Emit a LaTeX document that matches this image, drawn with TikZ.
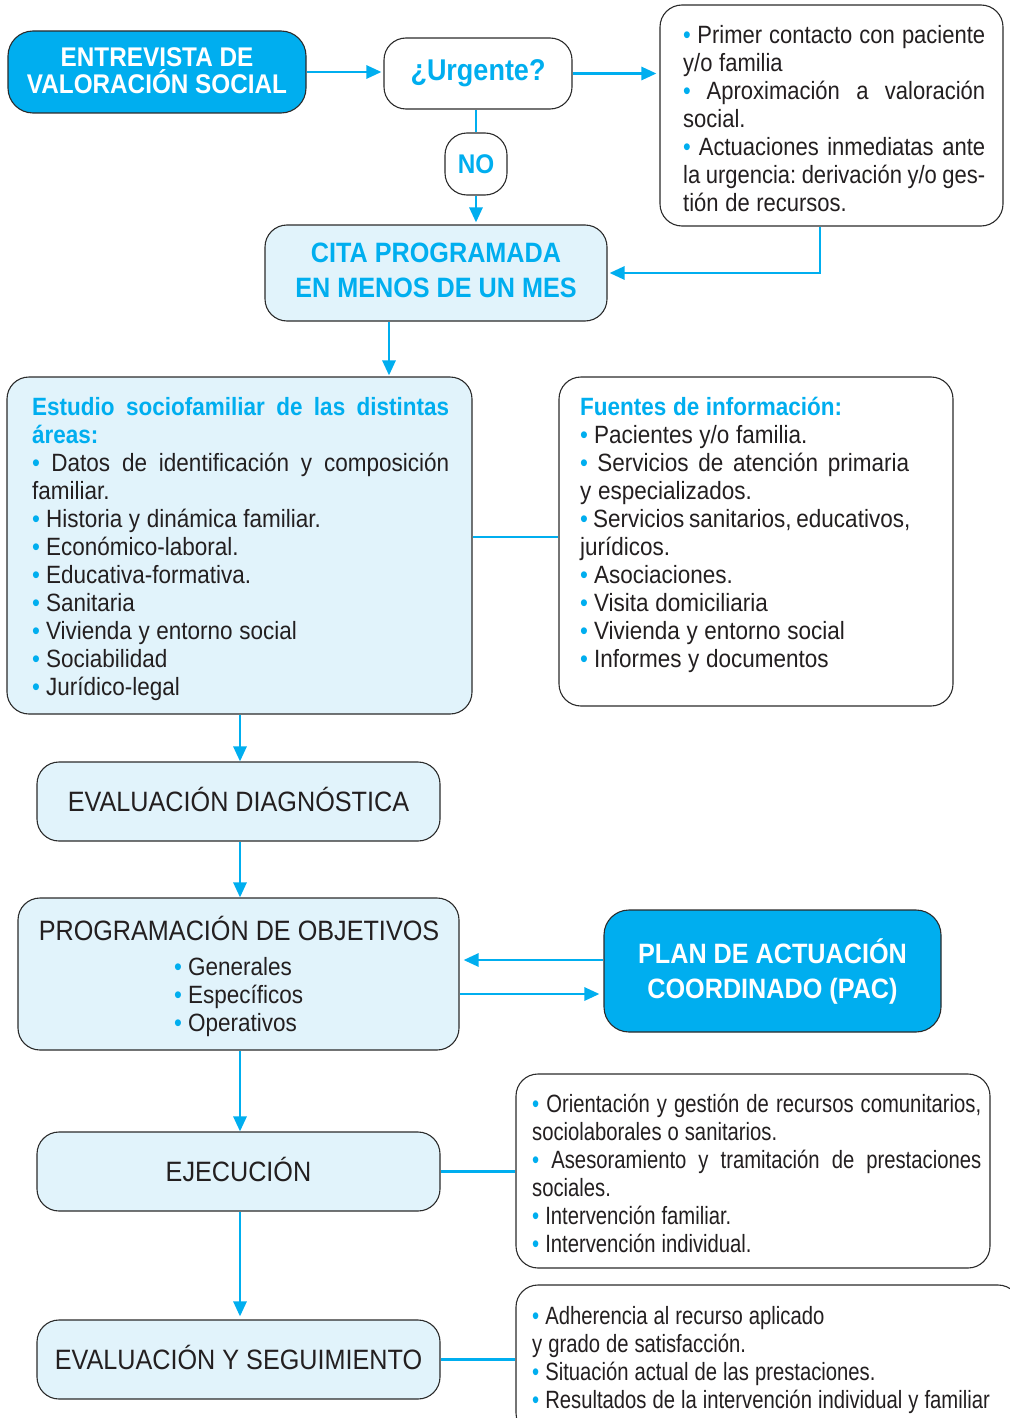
\documentclass[tikz,border=0pt]{standalone}
\usepackage{fontspec}
\setmainfont[FakeStretch=0.9]{Liberation Sans}
\newfontfamily\fmid[FakeStretch=0.88]{Liberation Sans}
\newfontfamily\fnar[FakeStretch=0.81]{Liberation Sans}
\usetikzlibrary{arrows.meta}
\definecolor{cy}{HTML}{00AEEF}
\definecolor{lb}{HTML}{E1F3FB}
\definecolor{tx}{HTML}{231F20}
\definecolor{bd}{HTML}{2B2B2B}
\newcommand\bl{{\color{cy}\textbullet}\hspace{6pt plus 5pt minus 1pt}}
\newcommand\jl[1]{\makebox[\linewidth][s]{#1}}
\newcommand\st{\rule{0pt}{22pt}}
\newcommand\hd[1]{{\bfseries\color{cy}#1}}
\newcommand\dpth[1]{\rule[-#1]{0pt}{#1}}
\newcommand\spA{\frenchspacing\spaceskip=6.6pt plus 5pt minus 1.8pt\relax}
\newcommand\spB{\frenchspacing\spaceskip=6pt plus 5pt minus 1.5pt\relax}
\tikzset{
  box/.style={draw=bd, line width=1.1pt, rounded corners=22pt, fill=lb, inner sep=0pt, align=center, text=tx},
  wbox/.style={box, fill=white},
  dbox/.style={box, fill=cy, text=white},
  lbl/.style={font=\fontsize{28}{33}\selectfont, text height=20pt, text depth=0pt},
  conn/.style={draw=cy, line width=2.8pt},
  arr/.style={conn, -{Triangle[length=15pt,width=13pt]}},
  lst/.style={anchor=north west, inner sep=0pt, text=tx, align=left, font=\fontsize{25}{28}\selectfont}
}
\begin{document}
\begin{tikzpicture}[x=1pt,y=-1pt]
\useasboundingbox (0,0) rectangle (1009,1418);
% boxes
\node[dbox, rounded corners=25pt, minimum width=298, minimum height=82, font=\fontsize{27}{27}\selectfont\bfseries] (ent) at (157,72) {ENTREVISTA DE\\VALORACIÓN SOCIAL\dpth{2pt}};
\node[wbox, minimum width=188, minimum height=71, text=cy, font=\fontsize{30}{33}\selectfont\bfseries] (urg) at (478,73.5) {¿Urgente?};
\node[wbox, minimum width=343, minimum height=221] (info) at (831.5,115.5) {};
\node[wbox, minimum width=62, minimum height=62, text=cy, font=\fontsize{27}{33}\selectfont\bfseries] (no) at (476,164) {NO};
\node[box, minimum width=342, minimum height=96, text=cy, font=\fontsize{28}{35}\selectfont\bfseries] (cita) at (436,273) {CITA PROGRAMADA\\EN MENOS DE UN MES\dpth{6pt}};
\node[box, minimum width=465, minimum height=337] (est) at (239.5,545.5) {};
\node[wbox, minimum width=394, minimum height=329] (fue) at (756,541.5) {};
\node[box, lbl, minimum width=403, minimum height=79] (diag) at (238.5,801.5) {EVALUACIÓN DIAGNÓSTICA};
\node[box, minimum width=441, minimum height=152] (prog) at (238.5,974) {};
\node[dbox, rounded corners=25pt, minimum width=337, minimum height=122, font=\fontsize{28}{35}\selectfont\bfseries] (pac) at (772.5,971) {PLAN DE ACTUACIÓN\\COORDINADO (PAC)};
\node[box, lbl, minimum width=403, minimum height=79] (ejec) at (238.5,1171.5) {EJECUCIÓN};
\node[wbox, minimum width=474, minimum height=194] (ejl) at (753,1171) {};
\node[box, lbl, minimum width=403, minimum height=79] (seg) at (238.5,1359.5) {EVALUACIÓN Y SEGUIMIENTO};
\node[wbox, minimum width=504, minimum height=150] (sgl) at (768,1360) {};
% texts
\node[lst, text width=302pt, font=\fmid\fontsize{25}{28}\selectfont] (infot) at (683,21)
 {\spA\st\jl{\bl Primer contacto con paciente}\\ y/o familia\\ \jl{\bl Aproximación a valoración}\\ social.\\ \jl{\bl Actuaciones inmediatas ante}\\ \jl{la urgencia: derivación y/o ges-}\\ tión de recursos.};
\node[lst, text width=417pt] (estt) at (32,393)
 {\spA\st\jl{\bfseries\color{cy}Estudio sociofamiliar de las distintas}\\ \hd{áreas:}\\ \jl{\bl Datos de identificación y composición}\\ familiar.\\ \bl Historia y dinámica familiar.\\ \bl Económico-laboral.\\ \bl Educativa-formativa.\\ \bl Sanitaria\\ \bl Vivienda y entorno social\\ \bl Sociabilidad\\ \bl Jurídico-legal};
\node[lst, text width=329pt] (fuet) at (580,393)
 {\spA\st\hd{Fuentes de información:}\\ \bl Pacientes y/o familia.\\ \jl{\bl Servicios de atención primaria}\\ y especializados.\\ \jl{\bl Servicios sanitarios, educativos,}\\ jurídicos.\\ \bl Asociaciones.\\ \bl Visita domiciliaria\\ \bl Vivienda y entorno social\\ \bl Informes y documentos};
\node[font=\fontsize{28}{33}\selectfont, text=tx, inner sep=0pt, text height=20pt, text depth=0pt] (progt) at (239,930) {PROGRAMACIÓN DE OBJETIVOS};
\node[lst, text width=200pt] (progl) at (174,953)
 {\spA\st\bl Generales\\ \bl Específicos\\ \bl Operativos};
\node[lst, text width=449pt, font=\fnar\fontsize{25}{28}\selectfont] (ejlt) at (532,1090)
 {\spB\st\jl{\bl Orientación y gestión de recursos comunitarios,}\\ sociolaborales o sanitarios.\\ \jl{\bl Asesoramiento y tramitación de prestaciones}\\ sociales.\\ \bl Intervención familiar.\\ \bl Intervención individual.};
\node[lst, text width=475pt, font=\fnar\fontsize{25}{28}\selectfont] (sglt) at (532,1302)
 {\spB\st\bl Adherencia al recurso aplicado\\ y grado de satisfacción.\\ \bl Situación actual de las prestaciones.\\ \mbox{\bl Resultados de la intervención individual y familiar}};
% connectors
\coordinate (cA) at (820,0);
\coordinate (cB) at (389,0);
\coordinate (cC) at (0,537);
\coordinate (cD) at (240,0);
\coordinate (cE) at (0,960);
\coordinate (cF) at (0,994);
\draw[arr] (ent.east) -- ([xshift=-2pt]ent.east -| urg.west);
\draw[arr, shorten >=3pt] (urg.east) -- (urg.east -| info.west);
\draw[conn] (no.north) -- (no.north |- urg.south);
\draw[arr, shorten >=2pt] (no.south) -- (no.south |- cita.north);
\draw[arr, shorten >=2pt] (cA |- info.south) |- (cita.east);
\draw[arr, shorten >=1pt] (cB |- cita.south) -- (cB |- est.north);
\draw[conn] (cC -| est.east) -- (cC -| fue.west);
\draw[arr] (cD |- est.south) -- (cD |- diag.north);
\draw[arr] (cD |- diag.south) -- (cD |- prog.north);
\draw[arr, shorten >=4pt] (cE -| pac.west) -- (cE -| prog.east);
\draw[arr, shorten >=4pt] (cF -| prog.east) -- (cF -| pac.west);
\draw[arr] (cD |- prog.south) -- (cD |- ejec.north);
\draw[arr, shorten >=3pt] (cD |- ejec.south) -- (cD |- seg.north);
\draw[conn] (ejec.east) -- (ejec.east -| ejl.west);
\draw[conn] (seg.east) -- (seg.east -| sgl.west);
\end{tikzpicture}
\end{document}
